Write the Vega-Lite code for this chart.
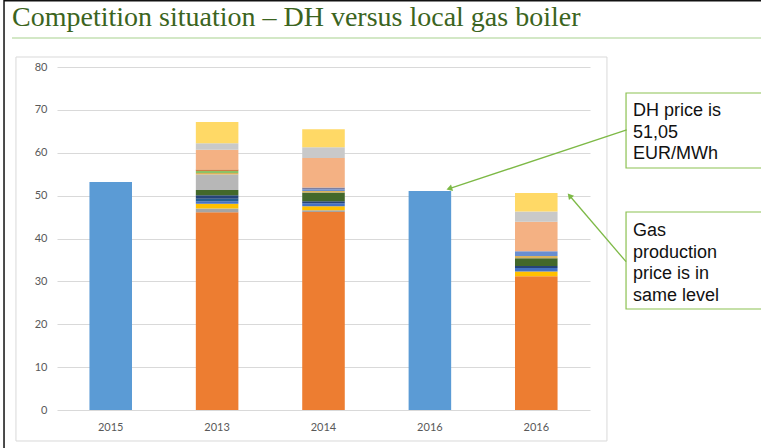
{
  "$schema": "https://vega.github.io/schema/vega-lite/v6.json",
  "width": 533,
  "height": 343,
  "autosize": {"type": "none"},
  "padding": {"left": 57, "top": 67, "right": 171, "bottom": 38},
  "background": "white",
  "config": {"view": {"stroke": null}},
  "datasets": {
    "bars": [
      {"bar": "2015", "series": "s01", "value": 53.2},
      {"bar": "2013", "series": "s02", "value": 46.1},
      {"bar": "2013", "series": "s03", "value": 0.9},
      {"bar": "2013", "series": "s04", "value": 1.1},
      {"bar": "2013", "series": "s05", "value": 0.6},
      {"bar": "2013", "series": "s06", "value": 0.6},
      {"bar": "2013", "series": "s07", "value": 0.8},
      {"bar": "2013", "series": "s08", "value": 1.2},
      {"bar": "2013", "series": "s09", "value": 3.6},
      {"bar": "2013", "series": "s10", "value": 0.4},
      {"bar": "2013", "series": "s12", "value": 0.5},
      {"bar": "2013", "series": "s13", "value": 0.3},
      {"bar": "2013", "series": "s15", "value": 4.6},
      {"bar": "2013", "series": "s16", "value": 1.5},
      {"bar": "2013", "series": "s17", "value": 5.0},
      {"bar": "2014", "series": "s02", "value": 46.2},
      {"bar": "2014", "series": "s03", "value": 0.4},
      {"bar": "2014", "series": "s04", "value": 0.9},
      {"bar": "2014", "series": "s05", "value": 0.7},
      {"bar": "2014", "series": "s07", "value": 0.5},
      {"bar": "2014", "series": "s08", "value": 2.0},
      {"bar": "2014", "series": "s10", "value": 0.4},
      {"bar": "2014", "series": "s11", "value": 0.4},
      {"bar": "2014", "series": "s14", "value": 0.4},
      {"bar": "2014", "series": "s15", "value": 6.9},
      {"bar": "2014", "series": "s16", "value": 2.5},
      {"bar": "2014", "series": "s17", "value": 4.2},
      {"bar": "2016 DH", "series": "s01", "value": 51.05},
      {"bar": "2016 gas", "series": "s02", "value": 31.2},
      {"bar": "2016 gas", "series": "s04", "value": 1.1},
      {"bar": "2016 gas", "series": "s05", "value": 0.8},
      {"bar": "2016 gas", "series": "s07", "value": 0.5},
      {"bar": "2016 gas", "series": "s08", "value": 1.8},
      {"bar": "2016 gas", "series": "s10", "value": 0.5},
      {"bar": "2016 gas", "series": "s11", "value": 1.1},
      {"bar": "2016 gas", "series": "s15", "value": 6.9},
      {"bar": "2016 gas", "series": "s16", "value": 2.4},
      {"bar": "2016 gas", "series": "s17", "value": 4.3}
    ],
    "page": [
      {"x": -0.497, "x2": 8, "y": 95.45, "y2": -20}
    ],
    "frame": [
      {"x": -0.385, "x2": 5.159, "y": 82.33, "y2": -7.23}
    ],
    "underline": [
      {"x": -0.422, "x2": 8, "y": 86.76}
    ],
    "title": [
      {"x": -0.422, "y": 89.56, "text": "Competition situation – DH versus local gas boiler"}
    ],
    "boxes": [
      {"x": 5.338, "x2": 8, "y": 73.94, "y2": 56.44},
      {"x": 5.338, "x2": 8, "y": 46.18, "y2": 23.56}
    ],
    "notes": [
      {"x": 5.403, "y": 68.57, "text": "DH price is\n51,05\nEUR/MWh"},
      {"x": 5.403, "y": 40.58, "text": "Gas\nproduction\nprice is in\nsame level"}
    ],
    "arrows": [
      {"x": 5.344, "y": 65.31, "x2": 3.68, "y2": 51.64},
      {"x": 5.338, "y": 34.59, "x2": 4.809, "y2": 49.98}
    ],
    "heads": [
      {"x": 3.68, "y": 51.64, "angle": 252},
      {"x": 4.809, "y": 49.98, "angle": 319.5}
    ]
  },
  "layer": [
    {
      "data": {"name": "bars"},
      "mark": {"type": "bar"},
      "encoding": {
        "x": {
          "field": "bar", "type": "nominal", "sort": null,
          "scale": {"domain": ["2015", "2013", "2014", "2016 DH", "2016 gas"], "paddingInner": 0.6, "paddingOuter": 0.305},
          "axis": {"title": null, "labelExpr": "substring(datum.label, 0, 4)", "labelAngle": 0, "domain": false, "ticks": false, "labelPadding": 11, "labelFont": "Lato", "labelFontSize": 11, "labelColor": "#595959"}
        },
        "y": {
          "field": "value", "type": "quantitative", "stack": "zero",
          "scale": {"domain": [0, 80], "nice": false},
          "axis": {"title": null, "values": [0, 10, 20, 30, 40, 50, 60, 70, 80], "domain": false, "ticks": false, "labelPadding": 10, "labelFont": "Lato", "labelFontSize": 11, "labelColor": "#595959", "gridColor": "#D9D9D9", "gridWidth": 1}
        },
        "color": {
          "field": "series", "type": "nominal", "legend": null,
          "scale": {
            "domain": ["s01", "s02", "s03", "s04", "s05", "s06", "s07", "s08", "s09", "s10", "s11", "s12", "s13", "s14", "s15", "s16", "s17"],
            "range": ["#5B9BD5", "#ED7D31", "#A5A5A5", "#FFC000", "#4472C4", "#255E91", "#264478", "#43682B", "#B7B7B7", "#D9B25C", "#698ED0", "#8CC168", "#C55A11", "#7F7F9F", "#F4B183", "#C9C9C9", "#FFD966"]
          }
        },
        "order": {"field": "series", "sort": "ascending"}
      }
    },
    {
      "layer": [
        {
          "data": {"name": "page"},
          "mark": {"type": "rect", "fill": null, "stroke": "#111111", "strokeWidth": 1.5},
          "encoding": {
            "x": {"field": "x", "type": "quantitative", "scale": {"domain": [0, 5], "nice": false, "zero": false}, "axis": null},
            "x2": {"field": "x2"},
            "y": {"field": "y", "type": "quantitative", "scale": {"domain": [0, 80], "nice": false, "zero": false}, "axis": null},
            "y2": {"field": "y2"}
          }
        },
        {
          "data": {"name": "frame"},
          "mark": {"type": "rect", "fill": null, "stroke": "#D9D9D9", "strokeWidth": 1},
          "encoding": {
            "x": {"field": "x", "type": "quantitative"},
            "x2": {"field": "x2"},
            "y": {"field": "y", "type": "quantitative"},
            "y2": {"field": "y2"}
          }
        },
        {
          "data": {"name": "underline"},
          "mark": {"type": "rule", "stroke": "#C5E0B3", "strokeWidth": 1.5},
          "encoding": {
            "x": {"field": "x", "type": "quantitative"},
            "x2": {"field": "x2"},
            "y": {"field": "y", "type": "quantitative"}
          }
        },
        {
          "data": {"name": "title"},
          "mark": {"type": "text", "align": "left", "baseline": "alphabetic", "font": "Liberation Serif", "fontSize": 28, "color": "#3B6420"},
          "encoding": {
            "x": {"field": "x", "type": "quantitative"},
            "y": {"field": "y", "type": "quantitative"},
            "text": {"field": "text"}
          }
        },
        {
          "data": {"name": "boxes"},
          "mark": {"type": "rect", "fill": "white", "stroke": "#8CC152", "strokeWidth": 1.2},
          "encoding": {
            "x": {"field": "x", "type": "quantitative"},
            "x2": {"field": "x2"},
            "y": {"field": "y", "type": "quantitative"},
            "y2": {"field": "y2"}
          }
        },
        {
          "data": {"name": "notes"},
          "mark": {"type": "text", "align": "left", "baseline": "alphabetic", "font": "Liberation Sans", "fontSize": 18, "lineHeight": 21.5, "lineBreak": "\n", "color": "#111111"},
          "encoding": {
            "x": {"field": "x", "type": "quantitative"},
            "y": {"field": "y", "type": "quantitative"},
            "text": {"field": "text"}
          }
        },
        {
          "data": {"name": "arrows"},
          "mark": {"type": "rule", "stroke": "#7DB946", "strokeWidth": 1.3},
          "encoding": {
            "x": {"field": "x", "type": "quantitative"},
            "x2": {"field": "x2"},
            "y": {"field": "y", "type": "quantitative"},
            "y2": {"field": "y2"}
          }
        },
        {
          "data": {"name": "heads"},
          "mark": {"type": "point", "shape": "triangle-up", "filled": true, "size": 45, "color": "#7DB946", "opacity": 1},
          "encoding": {
            "x": {"field": "x", "type": "quantitative"},
            "y": {"field": "y", "type": "quantitative"},
            "angle": {"field": "angle", "type": "quantitative", "scale": null}
          }
        }
      ]
    }
  ],
  "resolve": {"scale": {"x": "independent", "y": "independent", "color": "independent"}}
}
